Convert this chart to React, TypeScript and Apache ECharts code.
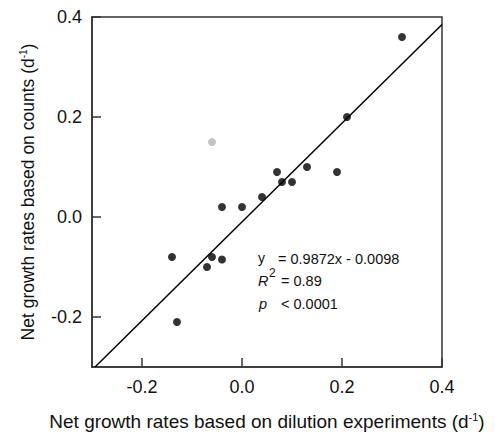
import React, { useEffect, useRef } from "react";
import * as echarts from "echarts";

const blackPoints: [number, number][] = [
  [0.32, 0.36],
  [0.21, 0.2],
  [0.07, 0.09],
  [0.13, 0.1],
  [0.19, 0.09],
  [0.08, 0.07],
  [0.1, 0.07],
  [0.04, 0.04],
  [-0.04, 0.02],
  [0.0, 0.02],
  [-0.14, -0.08],
  [-0.06, -0.08],
  [-0.04, -0.085],
  [-0.07, -0.1],
  [-0.13, -0.21],
];
const greyPoints: [number, number][] = [[-0.06, 0.15]];
const slope = 0.9872;
const intercept = -0.0098;
const tickValues = [-0.2, 0.0, 0.2, 0.4];
const axisMin = -0.3;
const axisMax = 0.4;

export default function App() {
  const ref = useRef<HTMLDivElement>(null);
  useEffect(() => {
    if (!ref.current) return;
    const chart = echarts.init(ref.current, undefined, { renderer: "svg" });
    const xStart = (axisMin - intercept) / slope;
    const fitLine = [
      [xStart, slope * xStart + intercept],
      [axisMax, slope * axisMax + intercept],
    ];
    const font = "Liberation Sans, Arial, sans-serif";
    const ink = "#111";
    const axisCommon = {
      type: "value",
      min: axisMin,
      max: axisMax,
      axisLine: { show: true, onZero: false, lineStyle: { color: "#333", width: 1.5 } },
      axisTick: {
        show: true,
        inside: true,
        length: 9,
        customValues: tickValues,
        lineStyle: { color: "#333", width: 1.5 },
      },
      axisLabel: {
        customValues: tickValues,
        formatter: (v: number) => v.toFixed(1),
        color: ink,
        fontSize: 18,
        fontFamily: font,
      },
      splitLine: { show: false },
    };
    chart.setOption({
      animation: false,
      backgroundColor: "#fff",
      grid: {
        left: 92,
        right: 53,
        top: 17,
        bottom: 70,
        show: true,
        borderColor: "#333",
        borderWidth: 1.5,
      },
      xAxis: {
        ...axisCommon,
        axisLabel: { ...axisCommon.axisLabel, margin: 11 },
        name: "{m|Net growth rates based on dilution experiments (d}{s|-1}{m|)}",
        nameLocation: "middle",
        nameGap: 44,
        nameTextStyle: {
          rich: {
            m: { fontSize: 19, fontFamily: font, color: ink },
            s: { fontSize: 11, fontFamily: font, color: ink, padding: [0, 0, 10, 0] },
          },
        },
      },
      yAxis: {
        ...axisCommon,
        axisLabel: { ...axisCommon.axisLabel, margin: 10 },
        name: "{m|Net growth rates based on counts (d}{s|-1}{m|)}",
        nameLocation: "middle",
        nameGap: 55,
        nameTextStyle: {
          rich: {
            m: { fontSize: 17.5, fontFamily: font, color: ink },
            s: { fontSize: 10, fontFamily: font, color: ink, padding: [0, 0, 9, 0] },
          },
        },
      },
      series: [
        {
          type: "line",
          data: fitLine,
          symbol: "none",
          lineStyle: { color: "#000", width: 1.5 },
          silent: true,
          z: 1,
        },
        {
          type: "scatter",
          data: blackPoints,
          symbolSize: 8,
          itemStyle: { color: "#000" },
          z: 3,
        },
        {
          type: "scatter",
          data: greyPoints,
          symbolSize: 8,
          itemStyle: { color: "#b4b4b4" },
          z: 3,
        },
      ],
      graphic: [
        { type: "text", left: 258, top: 251, style: { text: "y", fontSize: 14, fontFamily: font, fill: ink } },
        { type: "text", left: 278, top: 251, style: { text: "= 0.9872x - 0.0098", fontSize: 14.5, fontFamily: font, fill: ink } },
        { type: "text", left: 258, top: 273, style: { text: "R", fontSize: 14.5, fontStyle: "italic", fontFamily: font, fill: ink } },
        { type: "text", left: 269, top: 267, style: { text: "2", fontSize: 12, fontFamily: font, fill: ink } },
        { type: "text", left: 281, top: 273, style: { text: "= 0.89", fontSize: 14.5, fontFamily: font, fill: ink } },
        { type: "text", left: 259, top: 296, style: { text: "p", fontSize: 14.5, fontStyle: "italic", fontFamily: font, fill: ink } },
        { type: "text", left: 281, top: 296, style: { text: "< 0.0001", fontSize: 14.5, fontFamily: font, fill: ink } },
      ],
    });
    return () => chart.dispose();
  }, []);
  return <div ref={ref} style={{ width: 495, height: 437, position: "absolute", left: 0, top: 0 }} />;
}
